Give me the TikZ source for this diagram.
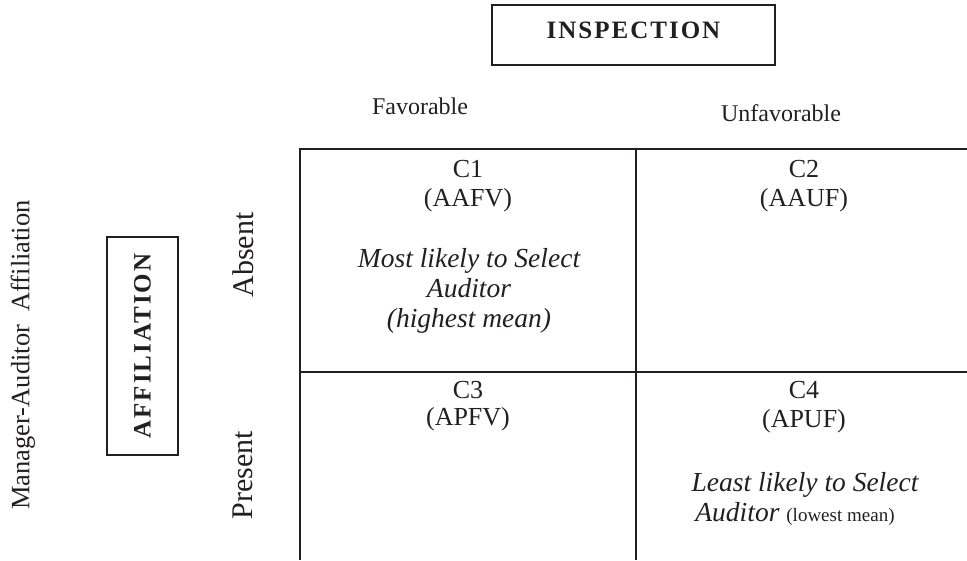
\documentclass[tikz,border=0pt]{standalone}
\usepackage{fontspec}
\setmainfont{Liberation Serif}
\newfontfamily\capsfont[LetterSpace=8]{Liberation Serif}
\usetikzlibrary{positioning}
\definecolor{ink}{HTML}{231F20}

\begin{document}
\begin{tikzpicture}[x=1pt,y=-1pt,
  every node/.style={inner sep=0pt, text=ink},
  txt/.style={font=\fontsize{26}{29}\selectfont, anchor=base},
  em/.style={font=\fontsize{27.5}{30}\selectfont\itshape, anchor=base},
  head/.style={font=\fontsize{24}{24}\selectfont},
  side/.style={font=\fontsize{30}{30}\selectfont, rotate=90},
  factor/.style={draw=ink, line width=1.3pt, font=\capsfont\bfseries\fontsize{25}{25}\selectfont},
  grid/.style={draw=ink, line width=2.2pt, line join=miter}]
\useasboundingbox (0,0) rectangle (967,560);

% Factor boxes
\node[factor, text depth=9pt, minimum width=283pt, minimum height=60pt] (insp) at (633.5,35) {INSPECTION};
\node[factor, rotate=90, minimum width=218pt, minimum height=71pt] (affil) at (142.5,346) {AFFILIATION};
\node[font=\fontsize{26.5}{26.5}\selectfont, rotate=90] (mgr) at (23,355) {Manager-Auditor\ \ Affiliation};

% Column and row levels
\node[head] (fav) at (420,106) {Favorable};
\node[head] (unfav) at (781,113) {Unfavorable};
\node[side] (absent) at (243,255) {Absent};
\node[side] (present) at (243,475) {Present};

% Grid
\coordinate (nw) at (300,149);
\coordinate (n) at (636,149);
\coordinate (ne) at (967,149);
\coordinate (w) at (300,372);
\coordinate (c) at (636,372);
\coordinate (e) at (967,372);
\coordinate (sw) at (300,560);
\coordinate (s) at (636,560);
\draw[grid] (ne) -- (nw) -- (sw);
\draw[grid] (n) -- (s);
\draw[grid] (w) -- (e);

% Cell C1
\node[txt] (c1) at (468,177) {C1};
\node[txt] (c1code) at (468,206) {(AAFV)};
\node[em] (c1a) at (469,267) {Most likely to Select};
\node[em] (c1b) at (469,297) {Auditor};
\node[em] (c1c) at (469,327) {(highest mean)};

% Cell C2
\node[txt] (c2) at (804,177) {C2};
\node[txt] (c2code) at (804,206) {(AAUF)};

% Cell C3
\node[txt] (c3) at (468,398) {C3};
\node[txt] (c3code) at (468,425) {(APFV)};

% Cell C4
\node[txt] (c4) at (804,398) {C4};
\node[txt] (c4code) at (804,427) {(APUF)};
\node[em] (c4a) at (805,491) {Least likely to Select};
\node[txt] (c4b) at (795,521) {\fontsize{27.5}{30}\selectfont\textit{Auditor} {\fontsize{19}{19}\selectfont(lowest mean)}};
\end{tikzpicture}
\end{document}
